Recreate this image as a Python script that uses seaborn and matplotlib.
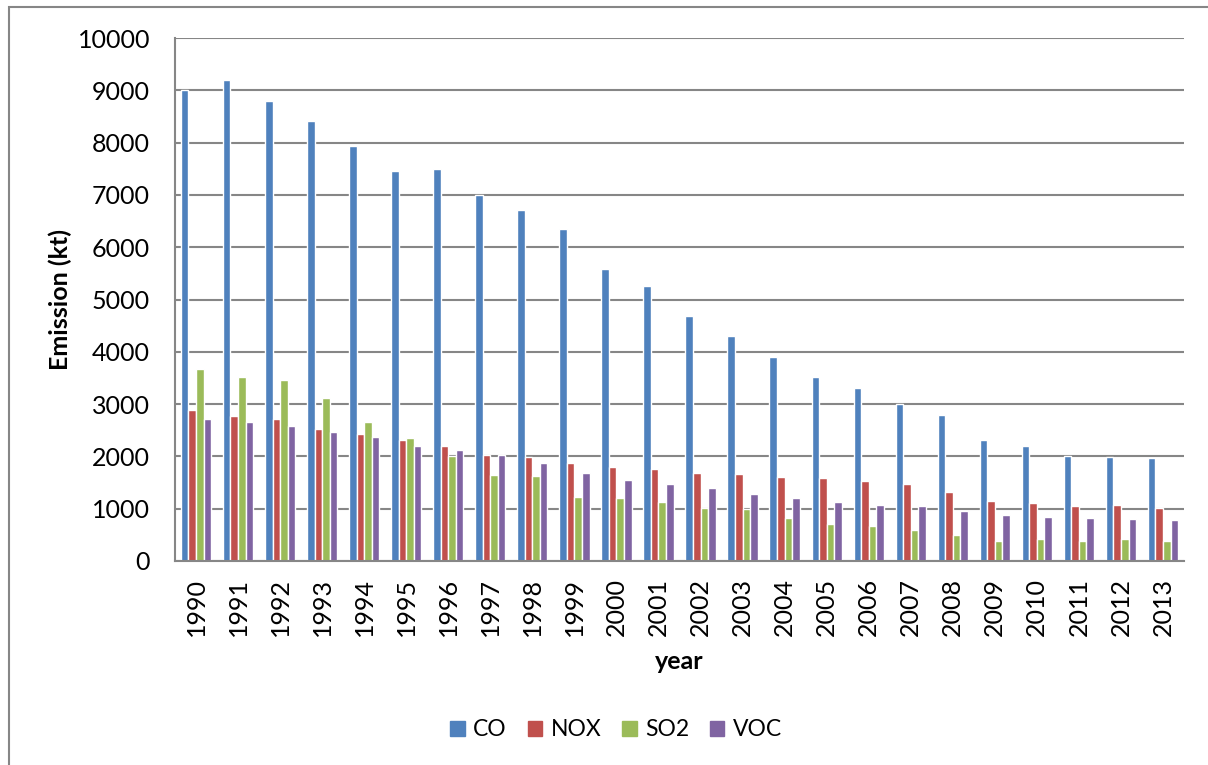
import numpy as np
import pandas as pd
import matplotlib
matplotlib.use("Agg")
import matplotlib.pyplot as plt
from matplotlib.patches import Rectangle
import seaborn as sns

years = list(range(1990, 2014))
co = [9000, 9190, 8790, 8410, 7940, 7460, 7500, 7000, 6710, 6350, 5590, 5250,
      4690, 4310, 3900, 3520, 3310, 3010, 2800, 2320, 2190, 2010, 1980, 1975]
nox = [2880, 2770, 2710, 2530, 2430, 2310, 2200, 2035, 1980, 1865, 1790, 1755,
       1680, 1660, 1605, 1585, 1535, 1475, 1315, 1145, 1105, 1045, 1065, 1015]
so2 = [3680, 3520, 3455, 3115, 2660, 2355, 2015, 1645, 1620, 1230, 1210, 1120,
       1005, 995, 830, 705, 660, 585, 490, 390, 415, 375, 430, 385]
voc = [2710, 2660, 2575, 2460, 2375, 2200, 2125, 2025, 1875, 1690, 1555, 1480,
       1395, 1285, 1205, 1125, 1080, 1045, 965, 875, 845, 820, 810, 790]
pollutants = ["CO", "NOX", "SO2", "VOC"]
colors = ["#4F81BD", "#C0504D", "#9BBB59", "#8064A2"]

df = pd.DataFrame({"year": years, "CO": co, "NOX": nox, "SO2": so2, "VOC": voc})
long = df.melt(id_vars="year", var_name="pollutant", value_name="emission")
long["year"] = long["year"].astype(str)

sns.set_style("white")
plt.rcParams["font.family"] = ["Lato", "DejaVu Sans"]
plt.rcParams["text.color"] = "black"
grey = "#868686"
fs = 18

fig = plt.figure(figsize=(12.08, 7.65), dpi=100)
ax = fig.add_axes([175 / 1208, 1 - 561 / 765, (1184 - 175) / 1208, (561 - 38) / 765])

sns.barplot(data=long, x="year", y="emission", hue="pollutant", hue_order=pollutants,
            palette=colors, saturation=1, width=0.72, gap=0, ax=ax, legend=False)

ax.set_ylim(0, 10000)
ax.set_xlim(-0.5, len(years) - 0.5)
ax.set_yticks(np.arange(0, 10001, 1000))
ax.yaxis.grid(True, color=grey, linewidth=1.5)
ax.set_axisbelow(True)
for s in ["top", "right"]:
    ax.spines[s].set_visible(False)
for s in ["left", "bottom"]:
    ax.spines[s].set_color(grey)
    ax.spines[s].set_linewidth(1.5)

ax.set_xticks(np.arange(-0.5, len(years), 1), minor=True)
ax.tick_params(axis="x", which="minor", length=6, width=1.5, color=grey, direction="out")
ax.tick_params(axis="x", which="major", length=0, labelsize=fs, labelcolor="black",
               rotation=90, pad=12)
ax.tick_params(axis="y", length=6, width=1.5, color=grey, labelsize=fs,
               labelcolor="black", pad=12)

ax.set_xlabel("year", fontsize=fs, fontweight="bold", color="black", labelpad=10)
ax.set_ylabel("Emission (kt)", fontsize=fs, fontweight="bold", color="black", labelpad=4)

handles = [Rectangle((0, 0), 1, 1, color=c) for c in colors]
fig.legend(handles, pollutants, loc="center", bbox_to_anchor=(616 / 1208, 1 - 730 / 765),
           ncol=4, frameon=False, fontsize=16.5, handlelength=0.65, handleheight=0.65,
           handletextpad=0.35, columnspacing=0.9)

fig.patches.append(Rectangle((9 / 1208, -0.1), 1.2, 1.1 - 7 / 765, transform=fig.transFigure,
                             fill=False, edgecolor=grey, linewidth=1.5))

fig.savefig("out.png", dpi=100)
